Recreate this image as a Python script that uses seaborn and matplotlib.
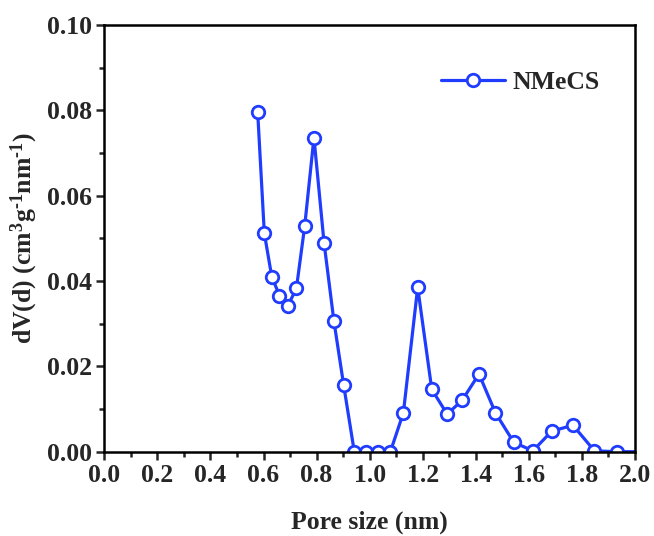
import matplotlib
matplotlib.use("Agg")
import matplotlib.pyplot as plt
import seaborn as sns
import pandas as pd
from matplotlib.ticker import MultipleLocator

pore_size = [0.578, 0.603, 0.631, 0.660, 0.691, 0.724, 0.755, 0.790, 0.828, 0.865,
             0.902, 0.942, 0.986, 1.032, 1.078, 1.127, 1.181, 1.234, 1.292, 1.348,
             1.412, 1.474, 1.543, 1.615, 1.686, 1.766, 1.847, 1.931, 2.03]
dv = [0.0795, 0.0512, 0.0410, 0.0366, 0.0341, 0.0383, 0.0528, 0.0736, 0.0490, 0.0307,
      0.0156, 0.0, 0.0, 0.0, 0.0, 0.0091, 0.0385, 0.0146, 0.0088, 0.0120,
      0.0182, 0.0091, 0.0022, 0.0002, 0.0048, 0.0062, 0.0002, 0.0, 0.0]
series_name = "NMeCS"

df = pd.DataFrame({"Pore size": pore_size, "dV": dv, "sample": series_name})

sns.set_style("ticks")
plt.rcParams["font.family"] = ["Liberation Serif", "DejaVu Serif"]
plt.rcParams["font.weight"] = "bold"
plt.rcParams["mathtext.fontset"] = "custom"
plt.rcParams["mathtext.rm"] = "Liberation Serif:bold"
plt.rcParams["mathtext.it"] = "Liberation Serif:bold"
plt.rcParams["mathtext.bf"] = "Liberation Serif:bold"
plt.rcParams["mathtext.default"] = "rm"

fig = plt.figure(figsize=(6.54, 5.36), dpi=100)
ax = fig.add_axes([0.1595, 0.1573, 0.9710 - 0.1595, 0.9534 - 0.1573])

color = "#1f3cff"
sns.lineplot(data=df, x="Pore size", y="dV", hue="sample", palette=[color],
             marker="o", markersize=9, markerfacecolor="white",
             markeredgecolor=color, markeredgewidth=2.0, linewidth=2.3,
             ax=ax, clip_on=True)

ax.set_xlim(0.0, 2.0)
ax.set_ylim(0.0, 0.10)
ax.xaxis.set_major_locator(MultipleLocator(0.2))
ax.xaxis.set_minor_locator(MultipleLocator(0.1))
ax.yaxis.set_major_locator(MultipleLocator(0.02))
ax.yaxis.set_minor_locator(MultipleLocator(0.01))
ax.xaxis.set_major_formatter(matplotlib.ticker.FormatStrFormatter("%.1f"))
ax.yaxis.set_major_formatter(matplotlib.ticker.FormatStrFormatter("%.2f"))

for s in ax.spines.values():
    s.set_linewidth(1.8)
    s.set_color("black")
    s.set_visible(True)

ax.tick_params(axis="both", which="major", direction="out", length=6, width=1.8,
               labelsize=18.5, pad=3, top=False, right=False)
ax.tick_params(axis="both", which="minor", direction="out", length=3.5, width=1.8,
               top=False, right=False)
for lbl in ax.get_xticklabels() + ax.get_yticklabels():
    lbl.set_fontweight("bold")

ax.set_xlabel("Pore size (nm)", fontsize=18.5, fontweight="bold", labelpad=17)
ax.set_ylabel(r"dV(d) (cm$^{3}$g$^{\text{-}1}$nm$^{\text{-}1}$)", fontsize=18.5,
              fontweight="bold", labelpad=5)

leg = ax.legend(loc="center right", bbox_to_anchor=(0.934, 0.866), frameon=False,
                handlelength=2.5, handletextpad=0.3, borderpad=0,
                borderaxespad=0, prop={"weight": "bold", "size": 18.5})

fig.savefig("out.png", dpi=100)
